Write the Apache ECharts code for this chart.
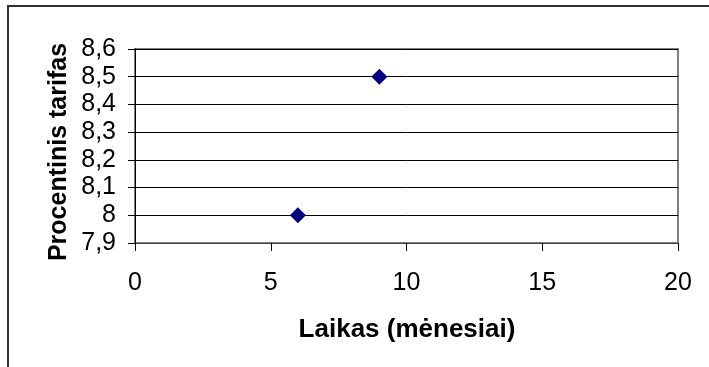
<!DOCTYPE html>
<html>
<head>
<meta charset="utf-8">
<script src="https://cdn.jsdelivr.net/npm/echarts@6/dist/echarts.min.js"></script>
<style>html,body{margin:0;padding:0;background:#fff;}#c{width:709px;height:367px;}</style>
</head>
<body>
<div id="c"></div>
<script>
const xTitle = 'Laikas (mėnesiai)';
const yTitle = 'Procentinis tarifas';
const months = [6, 9];
const rates = [8.0, 8.5];
const xTicks = [0, 5, 10, 15, 20];
const yTicks = [7.9, 8.0, 8.1, 8.2, 8.3, 8.4, 8.5, 8.6];

const chart = echarts.init(document.getElementById('c'), null, {renderer: 'canvas'});
const font = '"Liberation Sans", Arial, sans-serif';
chart.setOption({
  animation: false,
  grid: {left: 135, right: 31, top: 49, bottom: 124, show: true, borderColor: '#808080', borderWidth: 2, backgroundColor: 'transparent'},
  xAxis: {
    type: 'value', min: xTicks[0], max: xTicks[xTicks.length - 1], interval: 5,
    axisLine: {show: true, onZero: false, lineStyle: {color: '#444', width: 1}},
    axisTick: {show: true, inside: false, length: 8, lineStyle: {color: '#000'}},
    axisLabel: {margin: 28, fontSize: 25, color: '#000', fontFamily: font},
    splitLine: {show: false}
  },
  yAxis: {
    type: 'value', min: yTicks[0], max: yTicks[yTicks.length - 1], interval: 0.1,
    axisLine: {show: true, onZero: false, lineStyle: {color: '#000', width: 1}},
    axisTick: {show: true, inside: false, length: 7, lineStyle: {color: '#000'}},
    axisLabel: {margin: 19, fontSize: 25, color: '#000', fontFamily: font,
      formatter: v => String(Number(v.toFixed(1))).replace('.', ',')},
    splitLine: {show: true, lineStyle: {color: '#000', width: 1}}
  },
  series: [{
    type: 'scatter',
    data: months.map((m, i) => [m, rates[i]]),
    symbol: 'diamond', symbolSize: 16,
    itemStyle: {color: '#000080', opacity: 1}
  }],
  graphic: [
    {type: 'rect', shape: {x: 8, y: 6, width: 900, height: 600}, style: {fill: 'none', stroke: '#333', lineWidth: 2}, z: 100},
    {type: 'text', x: 407, y: 330, style: {text: xTitle, font: 'bold 26px ' + font, fill: '#000', align: 'center', verticalAlign: 'middle'}},
    {type: 'text', x: 59, y: 152, rotation: Math.PI / 2, style: {text: yTitle, font: 'bold 25px ' + font, fill: '#000', align: 'center', verticalAlign: 'middle'}}
  ]
});
</script>
</body>
</html>
